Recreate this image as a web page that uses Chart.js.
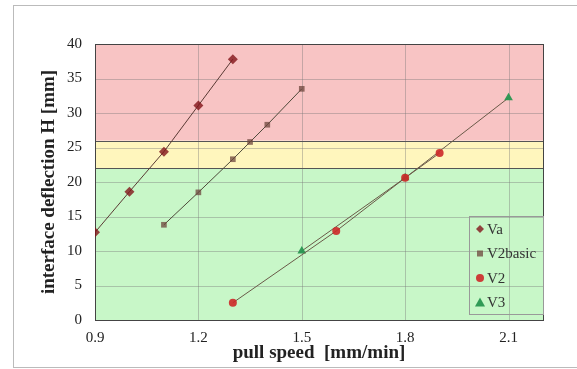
<!DOCTYPE html>
<html>
<head>
<meta charset="utf-8">
<script src="https://cdn.jsdelivr.net/npm/chart.js@4"></script>
<style>
  html, body { margin: 0; padding: 0; background: #fff; }
  #wrap { width: 577px; height: 369px; position: relative; }
</style>
</head>
<body>
<div id="wrap"><canvas id="myChart" width="577" height="369"></canvas></div>
<script>
// data
const vaX = [0.9, 1.0, 1.1, 1.2, 1.3];
const vaY = [12.7, 18.6, 24.4, 31.1, 37.8];
const v2basicX = [1.1, 1.2, 1.3, 1.35, 1.4, 1.5];
const v2basicY = [13.8, 18.5, 23.3, 25.8, 28.3, 33.5];
const v2X = [1.3, 1.6, 1.8, 1.9];
const v2Y = [2.5, 12.9, 20.6, 24.2];
const v3X = [1.5, 1.8, 2.1];
const v3Y = [10.0, 20.6, 32.2];
const seriesNames = ['Va', 'V2basic', 'V2', 'V3'];
// zones: green below 22, yellow 22-26, red above 26
const zoneEdges = [0, 22, 26, 40];
const zoneColors = ['#c8f7c8', '#fff6bd', '#f8c4c4'];

function pts(xs, ys) {
    return xs.map((x, i) => ({ x: x, y: ys[i] }));
}

const serif = '"Liberation Serif", "DejaVu Serif", serif';

const zones = {
    id: 'zones',
    beforeDatasetsDraw(chart) {
        const c = chart.ctx, a = chart.chartArea;
        const y = chart.scales.y, x = chart.scales.x;
        c.save();
        for (let i = 0; i < zoneColors.length; i++) {
            const top = y.getPixelForValue(zoneEdges[i + 1]);
            const bot = y.getPixelForValue(zoneEdges[i]);
            c.fillStyle = zoneColors[i];
            c.fillRect(a.left, top, a.right - a.left, bot - top);
        }
        // grid on top of the fills
        c.strokeStyle = 'rgba(120,120,120,0.4)';
        c.lineWidth = 1;
        for (let v = 5; v < 40; v += 5) {
            const py = Math.round(y.getPixelForValue(v)) + 0.5;
            c.beginPath(); c.moveTo(a.left, py); c.lineTo(a.right, py); c.stroke();
        }
        x.ticks.forEach(t => {
            const px = Math.round(x.getPixelForValue(t.value)) + 0.5;
            c.beginPath(); c.moveTo(px, a.top); c.lineTo(px, a.bottom); c.stroke();
        });
        c.strokeStyle = '#555';
        [zoneEdges[1], zoneEdges[2]].forEach(v => {
            const py = Math.round(y.getPixelForValue(v)) + 0.5;
            c.beginPath(); c.moveTo(a.left, py); c.lineTo(a.right, py); c.stroke();
        });
        c.strokeStyle = '#444';
        c.strokeRect(a.left + 0.5, a.top + 0.5, a.right - a.left, a.bottom - a.top);
        c.restore();
    },
    afterDraw(chart) {
        const c = chart.ctx, a = chart.chartArea;
        c.save();
        // outer frame (runs off the right edge in the original)
        c.strokeStyle = '#bbb';
        c.lineWidth = 1;
        c.strokeRect(13.5, 5.5, 600, 362);
        // legend box inside plot
        const bx = a.right - 74, by = a.bottom - 104, bw = 74, bh = 98;
        c.strokeStyle = '#999';
        c.strokeRect(bx + 0.5, by + 0.5, bw, bh);
        c.font = '15px ' + serif;
        c.textBaseline = 'middle';
        chart.data.datasets.forEach((ds, i) => {
            const ly = by + 13 + i * 24.5;
            const lx = bx + 11;
            c.fillStyle = ds.pointBackgroundColor;
            c.beginPath();
            if (ds.pointStyle === 'rectRot') {
                c.moveTo(lx, ly - 4); c.lineTo(lx + 4, ly); c.lineTo(lx, ly + 4); c.lineTo(lx - 4, ly);
            } else if (ds.pointStyle === 'rect') {
                c.rect(lx - 3, ly - 3, 6, 6);
            } else if (ds.pointStyle === 'circle') {
                c.arc(lx, ly, 4, 0, Math.PI * 2);
            } else {
                c.moveTo(lx, ly - 5); c.lineTo(lx + 5, ly + 4); c.lineTo(lx - 5, ly + 4);
            }
            c.closePath();
            c.fill();
            c.fillStyle = '#333';
            c.fillText(seriesNames[i], lx + 7, ly + 1);
        });
        c.restore();
    }
};

const ctx = document.getElementById('myChart').getContext('2d');
const myChart = new Chart(ctx, {
    type: 'scatter',
    data: {
        datasets: [
            {
                label: seriesNames[0], data: pts(vaX, vaY), showLine: true,
                borderColor: '#5a3a34', borderWidth: 1,
                pointStyle: 'rectRot', pointRadius: 5,
                pointBackgroundColor: 'rgba(130,20,25,0.8)', pointBorderWidth: 0
            },
            {
                label: seriesNames[1], data: pts(v2basicX, v2basicY), showLine: true,
                borderColor: '#4e4a3a', borderWidth: 1,
                pointStyle: 'rect', pointRadius: 4,
                pointBackgroundColor: 'rgba(110,70,60,0.75)', pointBorderWidth: 0
            },
            {
                label: seriesNames[2], data: pts(v2X, v2Y), showLine: true,
                borderColor: '#6a5a48', borderWidth: 1,
                pointStyle: 'circle', pointRadius: 4,
                pointBackgroundColor: 'rgba(205,40,40,0.9)', pointBorderWidth: 0
            },
            {
                label: seriesNames[3], data: pts(v3X, v3Y), showLine: true,
                borderColor: '#6a5a48', borderWidth: 1,
                pointStyle: 'triangle', pointRadius: 5,
                pointBackgroundColor: 'rgba(40,150,80,0.95)', pointBorderWidth: 0
            }
        ]
    },
    options: {
        responsive: false,
        animation: false,
        layout: { padding: { left: 38, top: 44, right: 34, bottom: 5 } },
        plugins: { legend: { display: false }, tooltip: { enabled: false } },
        scales: {
            x: {
                type: 'linear', min: 0.9, max: 2.2,
                afterFit: s => { s.height = 44; },
                afterBuildTicks: s => {
                    s.ticks = [0.9, 1.2, 1.5, 1.8, 2.1].map(v => ({ value: v }));
                },
                grid: { display: false, drawTicks: false },
                border: { display: false },
                ticks: {
                    padding: 9, color: '#222',
                    font: { family: serif, size: 15 },
                    callback: v => v.toFixed(1)
                },
                title: {
                    display: true, text: 'pull speed  [mm/min]', color: '#222',
                    font: { family: serif, size: 19, weight: 'bold' },
                    padding: { top: 0, bottom: 0 }
                }
            },
            y: {
                min: 0, max: 40,
                afterFit: s => { s.width = 57; },
                grid: { display: false, drawTicks: false },
                border: { display: false },
                ticks: {
                    stepSize: 5, padding: 13, color: '#222',
                    font: { family: serif, size: 15 }
                },
                title: {
                    display: true, text: 'interface deflection H [mm]', color: '#222',
                    font: { family: serif, size: 19, weight: 'bold' },
                    padding: { top: 0, bottom: 0 }
                }
            }
        }
    },
    plugins: [zones]
});
</script>
</body>
</html>
